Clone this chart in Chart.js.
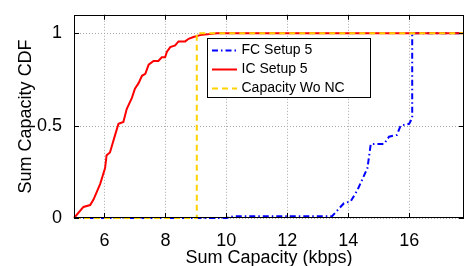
<!DOCTYPE html>
<html>
<head>
<meta charset="utf-8">
<script src="https://cdn.jsdelivr.net/npm/chart.js@4/dist/chart.umd.min.js"></script>
<style>
html,body{margin:0;padding:0;background:#fff;}
#wrap{width:466px;height:266px;position:relative;}
</style>
</head>
<body>
<div id="wrap"><canvas id="c" width="466" height="266"></canvas></div>
<script>
// ---- data ----
const fcX = [5, 10.0, 10.24, 13.47, 13.86, 14.08, 14.3, 14.63, 14.74, 15.17, 15.34, 15.6, 15.72, 16.0, 16.1, 16.1, 17.8];
const fcY = [0, 0, 0.01, 0.01, 0.08, 0.09, 0.15, 0.27, 0.40, 0.40, 0.44, 0.45, 0.50, 0.51, 0.54, 1.0, 1.0];
const icX = [5.0, 5.03, 5.31, 5.53, 5.64, 5.86, 6.02, 6.07, 6.18, 6.35, 6.46, 6.62, 6.73, 6.9, 7.0, 7.12, 7.23, 7.34, 7.45, 7.61, 7.77, 7.88, 7.99, 8.05, 8.16, 8.32, 8.43, 8.65, 8.76, 8.92, 9.14, 9.69, 17.8];
const icY = [0, 0, 0.06, 0.07, 0.10, 0.185, 0.27, 0.34, 0.355, 0.45, 0.51, 0.52, 0.59, 0.65, 0.70, 0.73, 0.77, 0.78, 0.83, 0.85, 0.85, 0.87, 0.87, 0.90, 0.925, 0.934, 0.956, 0.956, 0.97, 0.98, 0.99, 1.0, 1.0];
const woX = [5, 9.03, 9.03, 17.8];
const woY = [0, 0, 1, 1];
const seriesNames = ["FC Setup 5", "IC Setup 5", "Capacity Wo NC"];
const xTicks = [6, 8, 10, 12, 14, 16];
const yTicks = [0, 0.5, 1];
const xTitle = "Sum Capacity (kbps)";
const yTitle = "Sum Capacity CDF";

const pts = (xs, ys) => xs.map((x, i) => ({x: x, y: ys[i]}));
const FONT = "'Liberation Sans', Arial, sans-serif";

const grid = {
  id: 'dotgrid',
  beforeDatasetsDraw(chart) {
    const {ctx, chartArea: a, scales} = chart;
    ctx.save();
    ctx.strokeStyle = '#a8a8a8';
    ctx.lineWidth = 1;
    ctx.setLineDash([1, 2]);
    ctx.beginPath();
    xTicks.forEach(v => {
      const px = Math.round(scales.x.getPixelForValue(v)) + 0.5;
      ctx.moveTo(px, a.top); ctx.lineTo(px, a.bottom);
    });
    yTicks.forEach(v => {
      const py = Math.round(scales.y.getPixelForValue(v)) + 0.5;
      ctx.moveTo(a.left, py); ctx.lineTo(a.right, py);
    });
    ctx.stroke();
    ctx.restore();
  }
};

const frame = {
  id: 'frame',
  afterDatasetsDraw(chart) {
    const {ctx, chartArea: a, scales} = chart;
    ctx.save();
    ctx.strokeStyle = '#000';
    ctx.lineWidth = 1;
    ctx.beginPath();
    const L = 5;
    xTicks.forEach(v => {
      const px = Math.round(scales.x.getPixelForValue(v)) + 0.5;
      ctx.moveTo(px, a.bottom); ctx.lineTo(px, a.bottom - L);
      ctx.moveTo(px, a.top); ctx.lineTo(px, a.top + L);
    });
    yTicks.forEach(v => {
      const py = Math.round(scales.y.getPixelForValue(v)) + 0.5;
      ctx.moveTo(a.left, py); ctx.lineTo(a.left + L, py);
      ctx.moveTo(a.right, py); ctx.lineTo(a.right - L, py);
    });
    ctx.stroke();
    ctx.strokeRect(Math.round(a.left) + 0.5, Math.round(a.top) + 0.5, Math.round(a.right - a.left) - 1, Math.round(a.bottom - a.top) - 1);

    // legend
    const bx = 207.5, by = 38.5, bw = 163, bh = 59;
    ctx.fillStyle = '#fff';
    ctx.fillRect(bx, by, bw, bh);
    ctx.strokeRect(bx, by, bw, bh);
    ctx.font = '14px ' + FONT;
    ctx.textBaseline = 'middle';
    ctx.textAlign = 'left';
    chart.data.datasets.forEach((ds, i) => {
      const yy = Math.round(by + 11 + i * 19) + 0.5;
      ctx.save();
      ctx.strokeStyle = ds.borderColor;
      ctx.lineWidth = ds.borderWidth;
      ctx.setLineDash(ds.borderDash || []);
      ctx.beginPath();
      ctx.moveTo(bx + 4.5, yy); ctx.lineTo(bx + 29.5, yy);
      ctx.stroke();
      ctx.restore();
      ctx.fillStyle = '#000';
      ctx.fillText(seriesNames[i], bx + 34, yy);
    });
    ctx.restore();
  }
};

new Chart(document.getElementById('c'), {
  type: 'line',
  data: {
    datasets: [
      {label: seriesNames[0], data: pts(fcX, fcY), borderColor: '#0000ff', borderWidth: 2, borderDash: [6, 3, 1.5, 3], pointRadius: 0, fill: false, tension: 0, order: 2, clip: 3},
      {label: seriesNames[1], data: pts(icX, icY), borderColor: '#ff0000', borderWidth: 2, pointRadius: 0, fill: false, tension: 0, order: 1, clip: 3},
      {label: seriesNames[2], data: pts(woX, woY), borderColor: '#ffd200', borderWidth: 2, borderDash: [6, 4], pointRadius: 0, fill: false, tension: 0, order: 0, clip: 3}
    ]
  },
  options: {
    responsive: false,
    animation: false,
    devicePixelRatio: 1,
    layout: {padding: {left: 0, right: 2, top: 13, bottom: 0}},
    plugins: {legend: {display: false}, tooltip: {enabled: false}},
    scales: {
      x: {
        type: 'linear', min: 5, max: 17.8,
        afterBuildTicks: s => { s.ticks = xTicks.map(v => ({value: v})); },
        afterFit: s => { s.height = 48; },
        ticks: {font: {family: FONT, size: 18}, color: '#000', padding: 4, maxRotation: 0, callback: v => String(v)},
        grid: {display: false},
        border: {display: false},
        title: {display: true, text: xTitle, font: {family: FONT, size: 18}, color: '#000', padding: {top: 0, bottom: -3}}
      },
      y: {
        type: 'linear', min: 0, max: 1.1,
        afterBuildTicks: s => { s.ticks = yTicks.map(v => ({value: v})); },
        afterFit: s => { s.width = 74; },
        ticks: {font: {family: FONT, size: 18}, color: '#000', padding: 4, callback: v => String(v)},
        grid: {display: false},
        border: {display: false},
        title: {display: true, text: yTitle, font: {family: FONT, size: 18}, color: '#000', padding: {top: 15, bottom: 0}}
      }
    }
  },
  plugins: [grid, frame]
});
</script>
</body>
</html>
